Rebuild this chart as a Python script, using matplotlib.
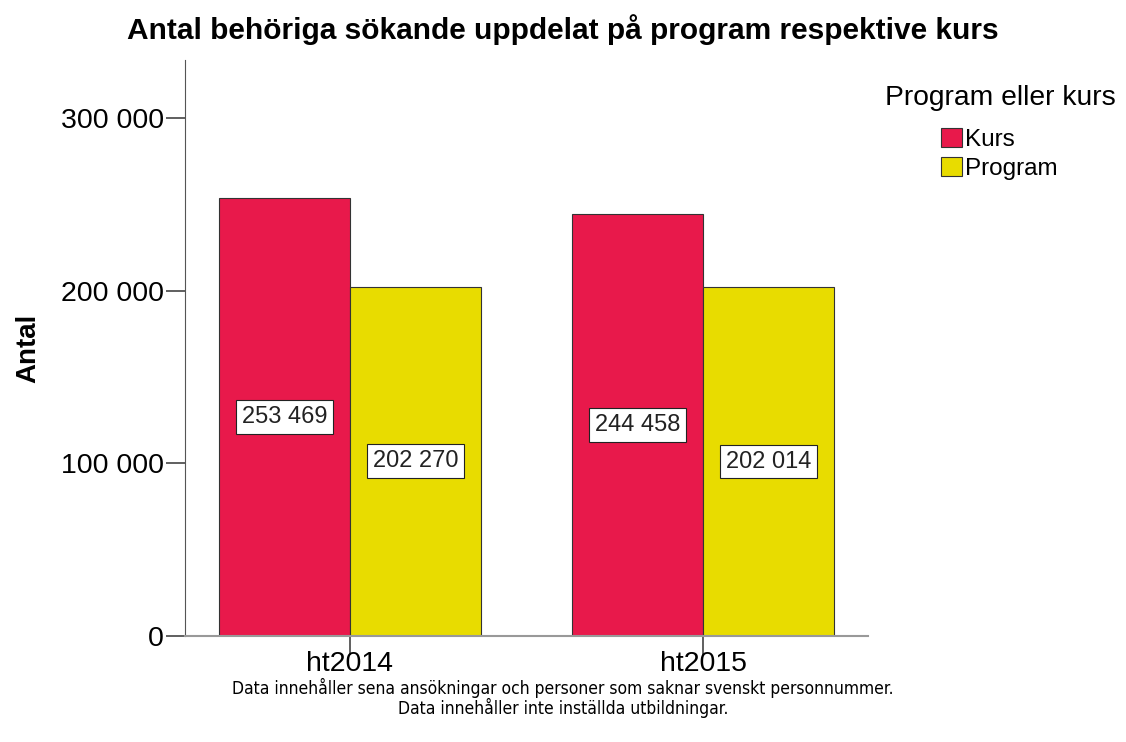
import matplotlib.pyplot as plt
import matplotlib.ticker as mticker
import numpy as np

plt.rcParams["font.family"] = ["Liberation Sans", "DejaVu Sans"]

# data
terms = ["ht2014", "ht2015"]
series = ["Kurs", "Program"]
kurs = [253469, 244458]
program = [202270, 202014]
colors = ["#E8194B", "#E8DC00"]

def sv_fmt(v):
    return f"{int(round(v)):,}".replace(",", " ")

fig = plt.figure(figsize=(11.26, 7.42), dpi=100)
ax = fig.add_axes([0.1643, 0.1429, 0.6066, 0.7762])

x = np.arange(len(terms))
w = 0.37
values = [kurs, program]
for i, (name, vals) in enumerate(zip(series, values)):
    pos = x + (i - 0.5) * w
    bars = ax.bar(pos, vals, width=w, color=colors[i], edgecolor="#333333",
                  linewidth=0.8, label=name)
    for b, v in zip(bars, vals):
        ax.text(b.get_x() + b.get_width() / 2, v / 2, sv_fmt(v),
                ha="center", va="center", fontsize=17, color="#222222",
                bbox=dict(boxstyle="square,pad=0.25", fc="white",
                          ec="#222222", lw=0.8))

ax.set_xlim(-0.467, 1.467)
ax.set_ylim(0, 333500)
ax.set_xticks(x)
ax.set_xticklabels(terms, fontsize=20.5)
ax.set_yticks([0, 100000, 200000, 300000])
ax.yaxis.set_major_formatter(mticker.FuncFormatter(lambda v, p: sv_fmt(v)))
ax.tick_params(axis="y", labelsize=20.5, length=14, width=1.2, color="#444444", pad=1)
ax.tick_params(axis="x", length=14, width=1.2, color="#444444", pad=-3)

for s in ["top", "right"]:
    ax.spines[s].set_visible(False)
ax.spines["left"].set_color("#555555")
ax.spines["bottom"].set_color("#999999")
ax.spines["bottom"].set_linewidth(1.5)

ax.set_ylabel("Antal", fontsize=20, fontweight="bold", labelpad=14)

fig.text(0.5, 0.96, "Antal behöriga sökande uppdelat på program respektive kurs",
         ha="center", va="center", fontsize=21.5, fontweight="bold")

# legend
fig.text(0.786, 0.868, "Program eller kurs", fontsize=20.3, va="center")
ax.legend(loc="upper left", bbox_to_anchor=(0.825, 0.844),
          bbox_transform=fig.transFigure, frameon=False, fontsize=17.5,
          handlelength=0.85, handleheight=0.85, handletextpad=0.15,
          labelspacing=0.25, borderpad=0)

foot = ["Data innehåller sena ansökningar och personer som saknar svenskt personnummer.",
        "Data innehåller inte inställda utbildningar."]
fig.text(0.5, 0.086, "\n".join(foot), ha="center", va="top",
         multialignment="center", fontsize=12.5, linespacing=1.0,
         fontstretch="condensed", family="DejaVu Sans")

fig.savefig("out.png", dpi=100)
